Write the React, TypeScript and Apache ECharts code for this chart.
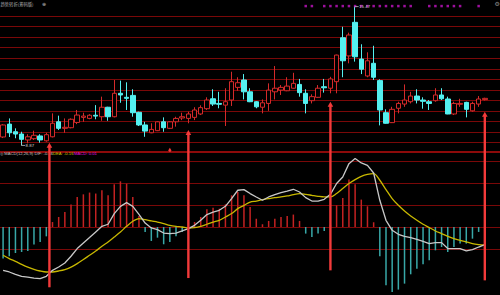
import React, { useEffect, useRef } from "react";
import * as echarts from "echarts";

// ---- data ----
const ohlc: number[][] = [
  [9.27, 9.84, 9.22, 9.88], [9.88, 9.47, 9.27, 10.15], [9.52, 9.41, 9.21, 9.68], [9.41, 9.16, 8.87, 9.52],
  [9.13, 9.28, 8.97, 9.40], [9.19, 9.35, 9.13, 9.57], [9.32, 9.13, 9.00, 9.40], [9.09, 9.38, 9.05, 9.47],
  [9.28, 9.92, 9.25, 10.39], [9.99, 9.68, 9.60, 10.28], [9.68, 9.73, 9.47, 10.15], [9.71, 10.11, 9.68, 10.15],
  [9.96, 10.31, 9.88, 10.55], [10.20, 10.26, 9.99, 10.42], [10.15, 10.30, 10.11, 10.35], [10.30, 10.26, 10.11, 10.78],
  [10.23, 10.68, 10.04, 11.18], [10.68, 10.23, 10.04, 10.70], [10.23, 11.34, 10.20, 11.97], [11.34, 11.26, 10.89, 11.94],
  [11.15, 11.10, 10.55, 11.86], [11.24, 10.42, 10.23, 11.53], [10.44, 9.84, 9.79, 10.47], [9.84, 9.55, 9.28, 9.99],
  [9.47, 9.63, 9.45, 9.92], [9.57, 9.99, 9.55, 10.02], [9.99, 9.71, 9.52, 10.20], [9.68, 9.99, 9.65, 10.02],
  [9.99, 10.15, 9.76, 10.23], [10.17, 10.23, 10.07, 10.42], [10.15, 10.36, 9.92, 10.47], [10.20, 10.55, 10.07, 10.68],
  [10.36, 10.66, 10.31, 10.77], [10.61, 11.02, 10.55, 11.15], [11.08, 10.83, 10.74, 11.53], [10.86, 10.82, 10.63, 11.41],
  [10.78, 10.94, 9.79, 11.58], [11.02, 11.89, 10.74, 12.36], [11.62, 11.84, 11.46, 12.10], [11.97, 11.41, 11.05, 12.25],
  [11.41, 10.94, 10.92, 11.58], [10.94, 10.70, 10.63, 10.97], [10.68, 10.89, 10.39, 11.05], [10.86, 11.49, 10.51, 11.81],
  [11.41, 11.58, 11.05, 12.63], [11.49, 11.62, 11.26, 11.73], [11.46, 11.68, 11.44, 12.10], [11.58, 11.81, 11.56, 12.31],
  [11.76, 11.37, 11.18, 12.02], [11.34, 10.86, 10.39, 11.53], [10.99, 11.18, 10.86, 11.29], [11.15, 11.58, 11.13, 11.73],
  [11.65, 11.60, 11.37, 12.02], [11.58, 12.02, 11.34, 12.12], [11.89, 13.15, 11.34, 13.17], [13.97, 12.88, 12.10, 14.49],
  [13.11, 14.10, 12.76, 14.21], [14.70, 13.07, 12.84, 15.47], [12.96, 12.48, 12.25, 13.66], [12.16, 12.88, 12.10, 13.28],
  [12.76, 12.10, 11.97, 13.59], [11.94, 10.55, 9.82, 12.00], [10.42, 9.92, 9.90, 10.58], [9.95, 10.58, 9.93, 10.70],
  [10.63, 10.86, 10.39, 10.94], [10.83, 11.02, 10.70, 11.76], [10.94, 11.21, 10.86, 11.41], [11.21, 11.02, 10.86, 11.53],
  [11.02, 10.96, 10.61, 11.15], [10.94, 10.86, 10.55, 11.02], [10.99, 11.26, 10.94, 11.58], [11.26, 11.08, 11.02, 11.58],
  [11.07, 10.36, 10.35, 11.18], [10.36, 10.86, 10.31, 10.94], [10.82, 10.86, 10.70, 11.08], [10.91, 10.58, 10.20, 10.94],
  [10.51, 10.86, 10.47, 10.94], [10.83, 11.07, 10.70, 11.21], [11.04, 11.10, 11.00, 11.13],
];
const days = ohlc.map((_, i) => String(i + 1));

const macdHist = [
  -0.287, -0.266, -0.236, -0.227, -0.218, -0.16, -0.136, -0.085,
  0.045, 0.091, 0.136, 0.204, 0.273, 0.297, 0.313, 0.304, 0.334, 0.288, 0.388, 0.415, 0.394, 0.273, 0.1,
  -0.045, -0.127, -0.097, -0.157, -0.136, -0.085, -0.045, -0.01,
  0.045, 0.091, 0.161, 0.176, 0.167, 0.206, 0.288, 0.318, 0.288, 0.182, 0.076, 0.025, 0.055, 0.076, 0.091, 0.1, 0.113, 0.055,
  -0.06, -0.091, -0.06, -0.036, 0.02,
  0.197, 0.264, 0.431, 0.388, 0.249, 0.188, 0.043,
  -0.266, -0.53, -0.59, -0.569, -0.515, -0.43, -0.379, -0.339, -0.303, -0.212, -0.182, -0.227, -0.182, -0.151, -0.151, -0.106, -0.045, 0.01,
];
const dif = [
  -0.394, -0.409, -0.43, -0.448, -0.455, -0.464, -0.469, -0.448, -0.394, -0.364, -0.327, -0.266, -0.196, -0.145, -0.096, -0.045,
  0.006, 0.025, 0.122, 0.188, 0.222, 0.188, 0.115, 0.036, -0.009, -0.024, -0.055, -0.06, -0.055, -0.036, -0.015, 0.015,
  0.061, 0.113, 0.136, 0.152, 0.188, 0.258, 0.334, 0.34, 0.304, 0.273, 0.243, 0.273, 0.295, 0.313, 0.327, 0.343,
  0.318, 0.267, 0.236, 0.236, 0.252, 0.297, 0.395, 0.455, 0.576, 0.622, 0.582, 0.561, 0.491, 0.243, 0.061, -0.03,
  -0.066, -0.085, -0.096, -0.112, -0.13, -0.151, -0.142, -0.142, -0.196, -0.196, -0.196, -0.218, -0.205, -0.182, -0.16,
];
const dea = [
  -0.257, -0.287, -0.312, -0.339, -0.364, -0.385, -0.4, -0.409, -0.409, -0.4, -0.387, -0.364, -0.333, -0.296, -0.257, -0.218,
  -0.175, -0.136, -0.091, -0.045, 0.006, 0.052, 0.076, 0.067, 0.055, 0.045, 0.031, 0.015, 0.006, 0, -0.009, -0.005,
  0.006, 0.025, 0.045, 0.061, 0.091, 0.122, 0.167, 0.197, 0.227, 0.236, 0.249, 0.258, 0.267, 0.273, 0.282, 0.295,
  0.304, 0.297, 0.288, 0.279, 0.273, 0.273, 0.304, 0.349, 0.395, 0.431, 0.461, 0.479, 0.485, 0.425, 0.34, 0.258,
  0.197, 0.145, 0.1, 0.061, 0.025, -0.005, -0.036, -0.06, -0.085, -0.106, -0.121, -0.136, -0.151, -0.16, -0.166,
];

// signal dots (day indices) and their level on the price scale
const signalDays = [49, 50, 52, 53, 54, 55, 56, 57, 58, 59, 60, 61, 62, 63, 64, 65, 66, 69, 70, 71, 72, 73, 74, 77];
const signalLevel = 15.47;

// buy arrows: day index, tip price, bottom MACD value
const arrowDays = [7.5, 30, 53, 78];
const arrowTipPrice = [9.0, 9.6, 10.94, 10.47];
const arrowBottomMacd = [-0.548, -0.464, -0.394, -0.485];
const smallArrowDays = [27];
const smallArrowPrice = [8.76, 8.57];

const highIdx = 57, highVal = 15.47;
const lowIdx = 3, lowVal = 8.87;

const legendDif = "-0.16", legendDea = "-0.16", legendMacd = "0.01";

const RED = "#d42a2a";
const CYAN = "#54f0f0";
const TEAL = "#38a8a8";
const GRIDRED = "#7a0808";
const ARROW = "#f23a3a";
const FONT = '"Liberation Sans", Arial, sans-serif';

export default function App() {
  const ref = useRef<HTMLDivElement>(null);
  useEffect(() => {
    document.body.style.margin = "0";
    document.body.style.background = "#000";
    const chart = echarts.init(ref.current!, null, { renderer: "svg" });
    const hidden = { show: false };
    chart.setOption({
      animation: false,
      backgroundColor: "#000",
      grid: [
        { left: -1.4, right: 12.1, top: 16, height: 126.7 },
        { left: -1.4, right: 12.1, top: 161, height: 88 },
        { left: 0, right: 0, top: 16, height: 126.7 },
        { left: 0, right: 0, top: 161, height: 88 },
      ],
      xAxis: [
        { type: "category", gridIndex: 0, data: days, boundaryGap: true, axisLine: hidden, axisTick: hidden, axisLabel: hidden, splitLine: hidden },
        { type: "category", gridIndex: 1, data: days, boundaryGap: true, axisLine: hidden, axisTick: hidden, axisLabel: hidden, splitLine: hidden },
        { type: "value", gridIndex: 2, min: 0, max: 1, show: false },
        { type: "value", gridIndex: 3, min: 0, max: 1, show: false },
      ],
      yAxis: [
        { type: "value", gridIndex: 0, min: 9, max: 15, interval: 0.5, axisLine: hidden, axisTick: hidden, axisLabel: hidden, splitLine: hidden },
        { type: "value", gridIndex: 1, min: -0.2, max: 0.6, interval: 0.2, axisLine: hidden, axisTick: hidden, axisLabel: hidden, splitLine: hidden },
        { type: "value", gridIndex: 2, min: 9, max: 15, interval: 0.5, axisLine: hidden, axisTick: hidden, axisLabel: hidden, splitLine: { show: true, lineStyle: { color: GRIDRED, width: 1 } } },
        { type: "value", gridIndex: 3, min: -0.2, max: 0.6, interval: 0.2, axisLine: hidden, axisTick: hidden, axisLabel: hidden, splitLine: { show: true, lineStyle: { color: GRIDRED, width: 1 } } },
      ],
      series: [
        {
          type: "candlestick",
          xAxisIndex: 0,
          yAxisIndex: 0,
          data: ohlc,
          barWidth: 5,
          clip: false,
          itemStyle: { color: "#000", color0: CYAN, borderColor: RED, borderColor0: CYAN, borderWidth: 1 },
        },
        {
          type: "scatter",
          xAxisIndex: 0,
          yAxisIndex: 0,
          clip: false,
          symbol: "rect",
          symbolSize: 2.5,
          itemStyle: { color: "#c414c4" },
          data: signalDays.map((d) => [d, signalLevel]),
        },
        {
          type: "bar",
          xAxisIndex: 1,
          yAxisIndex: 1,
          barWidth: 1.5,
          clip: false,
          data: macdHist.map((v) => ({ value: v, itemStyle: { color: v >= 0 ? "#c42222" : TEAL } })),
        },
        {
          type: "line",
          xAxisIndex: 1,
          yAxisIndex: 1,
          data: dea,
          symbol: "none",
          clip: false,
          smooth: 0.3,
          lineStyle: { color: "#c8b800", width: 1.3 },
        },
        {
          type: "line",
          xAxisIndex: 1,
          yAxisIndex: 1,
          data: dif,
          symbol: "none",
          clip: false,
          lineStyle: { color: "#c8c8c8", width: 1.3 },
        },
      ],
    });

    const px = (idx: number, val: number, g: number) => {
      const f = Math.floor(idx);
      const c = Math.ceil(idx);
      const a = chart.convertToPixel({ xAxisIndex: g, yAxisIndex: g }, [f, val]) as number[];
      const b = chart.convertToPixel({ xAxisIndex: g, yAxisIndex: g }, [c, val]) as number[];
      return [a[0] + (b[0] - a[0]) * (idx - f), a[1]];
    };

    const graphics: any[] = [];
    // panel separator
    graphics.push({ type: "line", z: 1, shape: { x1: 0, y1: 152, x2: 500, y2: 152 }, style: { stroke: "#8c0a0a", lineWidth: 2 } });

    // arrows
    arrowDays.forEach((d, k) => {
      const top = px(d, arrowTipPrice[k], 0);
      const bot = px(d, arrowBottomMacd[k], 1);
      const x = top[0];
      graphics.push({ type: "line", z: 50, shape: { x1: x, y1: top[1] + 4, x2: x, y2: bot[1] }, style: { stroke: ARROW, lineWidth: 2.4 } });
      graphics.push({ type: "polygon", z: 50, shape: { points: [[x, top[1]], [x - 2.8, top[1] + 5], [x + 2.8, top[1] + 5]] }, style: { fill: ARROW } });
    });
    smallArrowDays.forEach((d) => {
      const top = px(d, smallArrowPrice[0], 0);
      const bot = px(d, smallArrowPrice[1], 0);
      const x = top[0];
      graphics.push({ type: "line", z: 50, shape: { x1: x, y1: top[1] + 2, x2: x, y2: bot[1] }, style: { stroke: ARROW, lineWidth: 2 } });
      graphics.push({ type: "polygon", z: 50, shape: { points: [[x, top[1]], [x - 1.8, top[1] + 3], [x + 1.8, top[1] + 3]] }, style: { fill: ARROW } });
    });

    // high / low labels
    const hp = px(highIdx, highVal, 0);
    graphics.push({ type: "line", z: 40, shape: { x1: hp[0], y1: hp[1] + 0.5, x2: hp[0] + 3.5, y2: hp[1] + 0.5 }, style: { stroke: "#bbbbbb", lineWidth: 0.8 } });
    graphics.push({ type: "text", z: 40, x: hp[0] + 4, y: hp[1] + 0.5, style: { text: highVal.toFixed(2), fill: "#cfcfcf", font: `4.4px ${FONT}`, verticalAlign: "middle", textAlign: "left" } });
    const lp = px(lowIdx, lowVal, 0);
    graphics.push({ type: "polyline", z: 40, shape: { points: [[lp[0], lp[1] - 2], [lp[0], lp[1]], [lp[0] + 3.5, lp[1]]] }, style: { stroke: "#bbbbbb", lineWidth: 0.8, fill: "none" } });
    graphics.push({ type: "text", z: 40, x: lp[0] + 4, y: lp[1], style: { text: lowVal.toFixed(2), fill: "#cfcfcf", font: `4.4px ${FONT}`, verticalAlign: "middle", textAlign: "left" } });

    // titles
    graphics.push({ type: "text", z: 40, x: 0.5, y: 3.5, style: { text: "趋势转折(筹码版)", fill: "#b0b0b0", font: '4.3px "Noto Sans CJK SC", sans-serif', verticalAlign: "middle" } });
    graphics.push({ type: "text", z: 40, x: 42, y: 3.5, style: { text: "⊕", fill: "#b0b0b0", font: `5px "DejaVu Sans", sans-serif`, verticalAlign: "middle" } });
    graphics.push({ type: "text", z: 40, x: 494.5, y: 3.5, style: { text: "⚙", fill: "#8a8a8a", font: `6px "DejaVu Sans", sans-serif`, verticalAlign: "middle" } });

    graphics.push({ type: "text", z: 40, x: 0, y: 153.6, style: { text: `◎ MACD(12,26,9) DIF: ${legendDif}`, fill: "#c4c4c4", font: `4.2px ${FONT}`, verticalAlign: "middle" } });
    graphics.push({ type: "text", z: 40, x: 53, y: 153.6, style: { text: `DEA: ${legendDea}`, fill: "#d2c400", font: `4.2px ${FONT}`, verticalAlign: "middle" } });
    graphics.push({ type: "text", z: 40, x: 74, y: 153.6, style: { text: `MACD: ${legendMacd}`, fill: "#e010e0", font: `4.2px ${FONT}`, verticalAlign: "middle" } });

    chart.setOption({ graphic: graphics });
    return () => chart.dispose();
  }, []);
  return <div ref={ref} style={{ width: 500, height: 295 }} />;
}
